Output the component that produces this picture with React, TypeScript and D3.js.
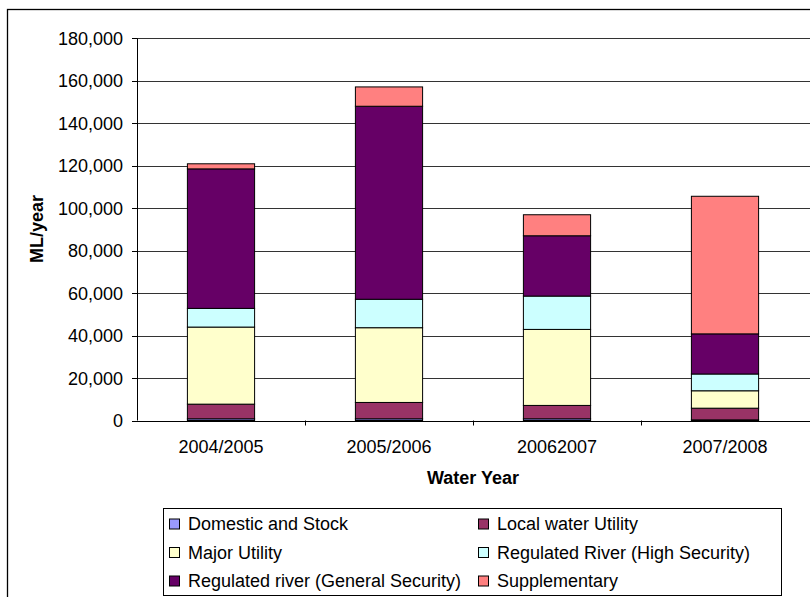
import React from "react";
import * as d3 from "d3";

const categories = ["2004/2005", "2005/2006", "20062007", "2007/2008"];
const seriesNames = [
  "Domestic and Stock",
  "Local water Utility",
  "Major Utility",
  "Regulated River (High Security)",
  "Regulated river (General Security)",
  "Supplementary",
];
const domestic = [800, 800, 800, 300];
const localUtility = [6900, 7700, 6300, 5500];
const majorUtility = [36300, 35200, 35800, 8200];
const highSecurity = [8800, 13400, 15700, 7900];
const generalSecurity = [65700, 90900, 28400, 18900];
const supplementary = [2400, 9100, 9900, 64800];
const colors = ["#9999FF", "#993366", "#FFFFCC", "#CCFFFF", "#660066", "#FF8080"];
const yTicks = [0, 20000, 40000, 60000, 80000, 100000, 120000, 140000, 160000, 180000];

const W = 810;
const H = 597;
const FONT = "'Liberation Sans', Arial, sans-serif";

export default function App() {
  const left = 137;
  const right = 809;
  const top = 38.3;
  const bottom = 420.5;

  const allSeries = [domestic, localUtility, majorUtility, highSecurity, generalSecurity, supplementary];
  const rows = categories.map((c, i) => {
    const r: any = { cat: c };
    seriesNames.forEach((n, j) => (r[n] = allSeries[j][i]));
    return r;
  });
  const stacked = d3.stack<any>().keys(seriesNames)(rows);

  const x = d3.scaleBand<string>().domain(categories).range([left, right]).paddingInner(0).paddingOuter(0);
  const y = d3.scaleLinear().domain([0, 180000]).range([bottom, top]);
  const barW = x.bandwidth() / 2.5;
  const fmt = d3.format(",");

  const legendX = 163;
  const legendY = 508;
  const legendW = 618;
  const legendH = 87;
  const colX = [169, 478];
  const rowY = [524, 552.5, 581];

  return (
    <svg width={W} height={H} style={{ position: "absolute", left: 0, top: 0 }} fontFamily={FONT}>
      <rect x={0} y={0} width={W} height={H} fill="#fff" />
      <rect x={7.5} y={9.5} width={W + 20} height={H + 20} fill="none" stroke="#000" strokeWidth={1.3} />
      {/* gridlines */}
      {yTicks.filter((t) => t > 0).map((t) => (
        <line key={t} x1={left} x2={right + 10} y1={Math.round(y(t)) + 0.5} y2={Math.round(y(t)) + 0.5} stroke="#333" strokeWidth={1} />
      ))}
      {/* bars */}
      {stacked.map((s, si) => (
        <g key={s.key}>
          {s.map((d, i) => (
            <rect
              key={i}
              x={(x(categories[i]) as number) + (x.bandwidth() - barW) / 2}
              y={y(d[1])}
              width={barW}
              height={Math.max(0, y(d[0]) - y(d[1]))}
              fill={colors[si]}
              stroke="#000"
              strokeWidth={1}
            />
          ))}
        </g>
      ))}
      {/* axes */}
      <line x1={left + 0.5} x2={left + 0.5} y1={top} y2={bottom} stroke="#000" />
      <line x1={left} x2={right + 10} y1={Math.round(bottom) + 0.5} y2={Math.round(bottom) + 0.5} stroke="#000" />
      {yTicks.map((t) => (
        <g key={t}>
          <line x1={left - 5} x2={left} y1={Math.round(y(t)) + 0.5} y2={Math.round(y(t)) + 0.5} stroke="#000" />
          <text x={123} y={y(t)} dy="0.36em" textAnchor="end" fontSize={18} fill="#000">
            {fmt(t)}
          </text>
        </g>
      ))}
      {categories.slice(1).map((c) => (
        <line key={c} x1={Math.round(x(c) as number) + 0.5} x2={Math.round(x(c) as number) + 0.5} y1={bottom} y2={bottom + 5} stroke="#000" />
      ))}
      {categories.map((c) => (
        <text key={c} x={(x(c) as number) + x.bandwidth() / 2} y={453} textAnchor="middle" fontSize={18} fill="#000">
          {c}
        </text>
      ))}
      <text x={473} y={484} textAnchor="middle" fontSize={18} fontWeight="bold" fill="#000">
        Water Year
      </text>
      <text transform="translate(42.5,229) rotate(-90)" textAnchor="middle" fontSize={18} fontWeight="bold" fill="#000">
        ML/year
      </text>
      {/* legend */}
      <rect x={legendX + 0.5} y={legendY + 0.5} width={legendW} height={legendH} fill="#fff" stroke="#000" strokeWidth={1} />
      {seriesNames.map((n, i) => {
        const cx = colX[i % 2];
        const cy = rowY[Math.floor(i / 2)];
        return (
          <g key={n}>
            <rect x={cx + 0.5} y={cy - 5} width={10} height={10} fill={colors[i]} stroke="#000" strokeWidth={1} />
            <text x={cx + 19} y={cy} dy="0.36em" fontSize={18} fill="#000">
              {n}
            </text>
          </g>
        );
      })}
    </svg>
  );
}
